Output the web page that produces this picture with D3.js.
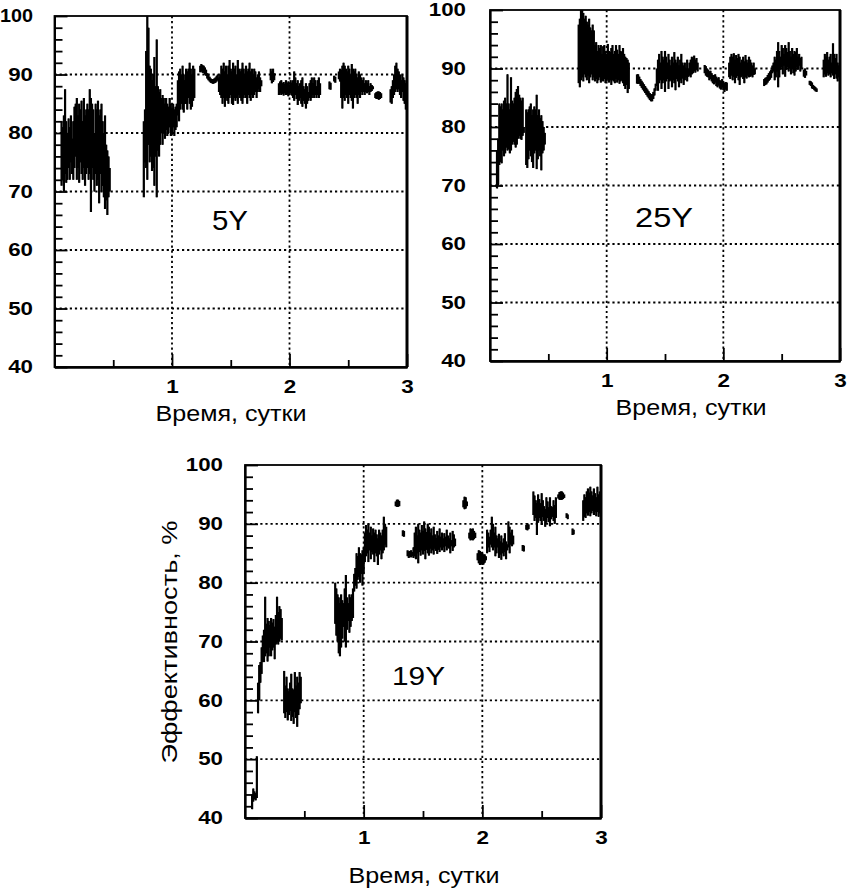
<!DOCTYPE html>
<html>
<head>
<meta charset="utf-8">
<script src="https://cdn.jsdelivr.net/npm/d3@7"></script>
<style>
  body { margin: 0; background: #fff; }
  svg { display: block; }
</style>
</head>
<body>
<svg id="chart" width="849" height="890"></svg>
<script>
// Sampling interval of the efficiency records, days
const STEP = 0.01;

const yTicks = [40, 50, 60, 70, 80, 90, 100];
const xTicks = [1, 2, 3];
const panelNames = ["5Y", "25Y", "19Y"];
const xTitle = "Время, сутки";
const yTitle = "Эффективность, %";

// Each run: [start time (days), upper envelope %, lower envelope %], one value per STEP
const runs5Y = [
  [0.06,
   [82, 81, 83, 87.5, 82, 80, 82.5, 81, 83, 79, 82, 84.5, 85, 86, 83, 85, 84, 85.5, 82, 86, 83, 84, 85, 84, 87.5, 86, 85, 84, 80, 85, 84, 85.5, 83, 84, 85, 82, 80, 83, 78, 77, 76, 74],
   [71, 72, 70, 73, 71.5, 72, 74, 72, 75, 73, 72, 74, 76, 72, 74, 71.5, 75, 73, 72, 74, 71, 73, 74, 72, 73, 66.5, 74, 72, 70, 73, 71, 72, 68, 73, 70, 71, 69, 67, 68.5, 66, 69, 70]],
  [0.76,
   [82, 84, 94, 100, 98, 91.5, 91, 89, 90, 93, 88, 96, 88, 87, 87.5, 86, 86.5, 86, 85, 86, 85, 84.5, 86, 85, 84, 85, 84, 84.5, 85],
   [69, 75, 74, 72, 78, 75, 76, 73.5, 74, 71, 76, 69, 77, 76, 78, 80, 78, 80, 79, 80.5, 79.5, 80, 81, 79.5, 80, 81, 79.5, 80.5, 81]],
  [1.05,
   [89, 90.5, 91, 90, 91.5, 90, 89, 91, 90.5, 91, 92, 91, 90, 91.5, 91],
   [83, 82, 84, 85, 84, 83.5, 85, 85, 84, 86, 85, 84, 84.5, 85.5, 86]],
  [1.24,
   [91.5, 91.8, 91.6, 91.5, 91.2, 90.8, 90.2, 90, 89.6, 89.3, 89.2, 89.2, 89.3, 89.5, 89.8, 90],
   [90.4, 90.5, 90.3, 90.3, 90.0, 89.8, 89.3, 89.0, 88.8, 88.6, 88.5, 88.4, 88.5, 88.6, 88.8, 89]],
  [1.40,
   [89.5, 90, 91.5, 91, 92, 90.5, 91.5, 90, 91.5, 92.5, 91, 90.5, 92, 91, 91.5, 90, 92.5, 91, 90.5, 91, 92, 91, 90, 91.5, 90.5, 91, 92, 90.5, 91, 90, 91, 90.5, 89.5, 90, 90.5, 89.5, 89],
   [87, 86.5, 86, 85, 86, 84.5, 86, 85.5, 85, 86, 86.5, 85, 84.8, 86, 85.5, 86, 85, 86.5, 86, 85.5, 85, 86, 86.5, 86, 85, 86.5, 86, 85.5, 86.5, 86, 86.5, 87, 86, 87, 87.5, 87, 88]],
  [1.84, [91, 90.5, 91, 90.2], [89, 88.5, 88.7, 89]],
  [1.91,
   [88.5, 88.8, 89, 88.5, 88.7, 88.4, 89, 88.5, 88.8, 88.3, 89, 88.6, 89, 90.5, 89.5, 88.5, 89, 88, 88.5, 89, 89.5, 88, 87.5, 88.5, 88, 87, 88.5, 89, 89.5, 88.5, 89.5, 89, 88, 89, 89.5, 88.5],
   [86.5, 86.8, 86.5, 86.7, 86.4, 86.8, 86.5, 86.6, 86.3, 86.5, 86.8, 86.4, 86, 85.5, 86.5, 85.8, 84.8, 85.5, 86, 85, 84.5, 85.5, 85, 84.2, 85, 85.5, 86, 85.5, 86, 86.5, 86, 86.5, 86, 86.5, 86, 86.5]],
  [2.34, [88.8, 88.6], [87.5, 87.4]],
  [2.38, [89.8, 89.6], [88.8, 88.6]],
  [2.42,
   [90.5, 91, 90.8, 91.5, 92, 91.5, 91, 90.5, 91.5, 91, 90, 91.8, 91, 90.5, 91, 90, 89.5, 90.5, 90, 89.5, 89, 89.5, 88.5, 89, 88.5, 89, 88, 88.5, 88.2, 88],
   [89.2, 88.8, 86, 84.2, 86, 85.5, 86.5, 86, 85, 86.5, 86, 85.5, 84.2, 86, 86.5, 86, 85, 86.5, 86, 87, 86.5, 87, 86.5, 87, 86.8, 87, 86.5, 87, 87.2, 87.5]],
  [2.73, [86.8, 87, 87.1, 87.1, 87, 86.8], [86, 85.8, 85.8, 85.7, 85.8, 86]],
  [2.86,
   [87.5, 88, 89, 90, 91.5, 92, 91, 90.5, 90, 89, 90, 89.5, 89, 88.5],
   [85.2, 85, 86, 86.5, 87, 87.5, 87, 87.5, 86.5, 86, 87, 85.5, 85, 84]]
];

const runs25Y = [
  [0.06,
   [76, 78, 84, 83.5, 84, 83, 84.5, 85, 84, 89, 84, 83, 88.5, 84.5, 84, 85, 86, 86.5, 87, 85.5, 85, 84.5, 85, 80],
   [69.5, 70, 73.5, 74, 73.8, 76, 75, 75.5, 76.5, 76, 76.2, 75.5, 76, 77, 77.5, 77, 76.5, 77, 78, 78.5, 78, 77.8, 78.5, 79]],
  [0.31,
   [83, 82.5, 83, 83.5, 84, 82, 83, 83.5, 83, 85.5, 82, 83, 81.5, 82, 81, 80, 79],
   [73.5, 73, 74.5, 76, 75, 74, 73, 75.5, 76, 72.8, 74.5, 76, 75, 72.6, 75.5, 76, 77]],
  [0.76,
   [97.5, 98.5, 100, 100, 99.5, 98.5, 99, 98, 97.5, 98.5, 97, 96.5, 97.5, 96.5, 94, 94.5, 93, 94, 93.5, 94, 92.5, 93.8, 94, 93, 92.5, 94.2, 93, 92.8, 93.5, 94, 92.5, 93, 94, 93.2, 92.5, 94, 93, 92.8, 93.5, 92.5, 92, 91.8, 91.5, 91],
   [87.5, 86.8, 88, 88.5, 87.8, 89, 88.5, 88, 88.8, 87.5, 88.5, 89, 88, 88.5, 87.8, 88.2, 87.5, 88, 88.5, 87.6, 88, 87.8, 88.2, 87.5, 87.8, 88.1, 87.6, 88, 87.2, 88, 87.8, 87.5, 88.2, 87.6, 88, 87.4, 87.8, 88, 87.5, 87, 86.5, 87.2, 85.8, 86.5]],
  [1.26,
   [89.0, 89.0, 88.6, 88.2, 87.9, 87.6, 87.3, 87.0, 86.7, 86.4, 86.1, 85.8, 85.6, 85.6, 86.0, 86.6, 87.4],
   [87.4, 87.4, 87.4, 87.0, 86.7, 86.4, 86.1, 85.8, 85.5, 85.2, 84.9, 84.6, 84.4, 84.4, 84.8, 85.4, 86.2]],
  [1.43,
   [90, 91.5, 92.5, 91, 93, 92, 91.5, 93, 92, 91, 92.5, 91.5, 90.5, 92, 91, 92.8, 91.5, 91, 92, 90.5, 91.5, 92.5, 91, 90.5, 91, 90, 91.5, 90, 91, 91.5, 92, 91.8, 92.2, 91.5, 91.8, 91],
   [87, 86.2, 87.5, 88, 86.5, 87.5, 88, 86, 87.8, 88.2, 86.5, 87.8, 88, 86.8, 88, 87.5, 86.3, 88.2, 87.8, 86.8, 88, 87.5, 88.3, 87.2, 88, 88.5, 87.8, 88.6, 88.8, 88.5, 89, 89.2, 89.6, 89.3, 89.8, 89.5]],
  [1.84,
   [90.6, 90.4, 90.0, 89.8, 89.5, 89.6, 89.2, 88.9, 88.8, 89.0, 88.6, 88.3, 88.5, 88.0, 87.8, 88.2, 87.8, 87.5, 87.7, 87.6],
   [89.2, 88.8, 88.6, 88.5, 88.0, 88.2, 87.8, 87.5, 87.3, 87.6, 87.0, 86.8, 87.1, 86.6, 86.4, 86.8, 86.3, 86.0, 86.4, 86.2]],
  [2.05,
   [91, 92, 92.5, 92, 92.6, 91.5, 92.3, 91.8, 92.5, 92, 91, 91.5, 92, 91.2, 92.3, 91.5, 91, 92, 91.5, 91, 90.5, 91, 90],
   [88.5, 88.2, 88.8, 88, 88.6, 87.5, 88.4, 88.7, 88, 87.2, 88.5, 88.8, 88.2, 87.5, 88.5, 88.3, 88.8, 88.5, 88.6, 88.8, 88.5, 88.9, 89]],
  [2.35,
   [88.2, 88.4, 88.5, 88.9, 89.2, 89.5, 89.8],
   [87.0, 87.2, 87.3, 87.6, 87.9, 88.1, 88.4]],
  [2.42,
   [90.5, 91, 92, 91.5, 93, 94.5, 93, 92, 94, 93.5, 92.5, 94, 93.5, 92.8, 94.5, 93, 92, 93.5, 92.5, 93, 92.8, 93.5, 92, 92.5, 91.8, 92],
   [89.2, 89.5, 88, 88.5, 89.5, 86.8, 88.5, 89.8, 90.2, 89, 90.5, 88.6, 89.8, 90.2, 89.5, 90, 89, 90, 89.2, 88.8, 89.5, 90.2, 89.8, 90.5, 89.5, 90]],
  [2.69, [89.8, 90, 89.6], [88.6, 88.4, 88.8]],
  [2.74,
   [87.9, 87.8, 87.6, 87.2, 87.0, 86.8, 86.6],
   [87.2, 87.0, 86.6, 86.5, 86.3, 86.1, 86.0]],
  [2.86,
   [91.5, 92.5, 92, 92.8, 91.5, 92, 92.5, 91, 94.3, 92.5, 91.8, 92.5, 91, 90.5],
   [88.5, 89, 88.6, 89.2, 88.8, 89, 88.5, 89.2, 88.8, 88.2, 89, 88.3, 87.8, 88.5]]
];

const runs19Y = [
  [0.06, [44, 45, 44.5, 44.2, 50.5], [41.5, 42.8, 43.2, 43, 43.4]],
  [0.11, [63, 66, 66.5, 69, 71], [57.8, 60, 63, 64.5, 66.5]],
  [0.16,
   [72, 77.6, 73, 74, 73.5, 72.8, 74, 73.2, 73.8, 72.5, 74.5, 77.6, 75, 76, 75.5, 74],
   [66.5, 67.5, 68, 66.6, 67.5, 69, 67.5, 68.5, 69, 67, 69.5, 70, 69.5, 70, 70.5, 70.2]],
  [0.33,
   [65, 62.5, 64, 62, 61.5, 63, 64.5, 62, 61.8, 64.8, 62.5, 64, 63, 64.8, 64],
   [57.8, 57, 58, 56.6, 57.5, 58.2, 56.5, 57.2, 56, 58, 57, 55.5, 57.5, 58.5, 59.5]],
  [0.76,
   [80, 79, 78, 77.5, 76.5, 78, 77, 76.5, 79, 81.3, 77.5, 76.5, 78, 77.5, 78, 79],
   [73, 71, 70, 68, 67.5, 69, 70.5, 72.5, 70, 69, 72, 73.5, 71.5, 72.5, 73.5, 74]],
  [0.92,
   [81.5, 82.5, 85, 84.5, 86, 85, 84.8, 85.5],
   [78.5, 79.5, 79, 80.5, 81, 80, 81.5, 79.5]],
  [1.00,
   [86, 88.5, 89.8, 89, 90, 88.5, 89.5, 88, 89.2, 88.5, 89, 88.2, 87.5, 89, 88.5, 88, 89, 91.2, 90, 89.5],
   [81.5, 83.5, 84.5, 85, 83.5, 85.5, 84, 85.2, 84.8, 83.5, 85, 84.5, 83, 84.8, 85.5, 84, 85, 85.5, 86.5, 86]],
  [1.27, [93.8, 94.1, 94.1, 93.9], [93.0, 92.9, 92.9, 93.0]],
  [1.33, [88.9, 88.8], [87.9, 87.8]],
  [1.37,
   [85.5, 85.3, 85.4, 85.5, 85.2, 86, 88.5, 89.5, 88, 90, 89, 88.5, 89.8, 88.8, 90.4, 89.2, 88.6, 90, 89.5, 88.5, 89.2, 88, 89.5, 88.2, 87.6, 88.8, 88, 89.2, 87.8, 88.5, 87.5, 88.4, 87.8, 89, 88, 87.5, 88.5, 87.2, 88.8, 88.2, 87.5],
   [84.5, 84.2, 84.4, 84.3, 84.5, 84.2, 84.5, 84, 85, 83.3, 85.2, 84.6, 85.5, 84.8, 85.4, 84, 85.6, 85, 84.6, 85.8, 85, 85.5, 84.8, 85.8, 85.4, 84.9, 85.6, 85.2, 86, 85.5, 86, 85.2, 86.2, 85.5, 86, 85.8, 85, 86.2, 85.4, 86, 86.2]],
  [1.84, [94, 94.6, 94.5, 93.8], [92.8, 92.5, 92.6, 93]],
  [1.89, [88.5, 89.2, 89.1, 89.2, 88.8, 88.5], [87.5, 87.2, 87.3, 87.2, 87.4, 87.6]],
  [1.96, [85, 85.5, 85.4, 85.2, 85, 84.8, 84.8, 84.5], [83.8, 83.3, 83, 83.2, 83, 83.1, 83.4, 83.8]],
  [2.04,
   [89, 88.5, 87.8, 89, 91.2, 90, 88.5, 89.5, 88, 87.5, 88.3, 87, 88, 86.8, 87.5, 88.4, 87, 86.5, 90.4, 89.5, 88.5, 89, 88],
   [85, 86, 85.2, 86.5, 86, 85.5, 86, 84.5, 85, 86, 84.2, 84.8, 83.9, 85, 84.5, 85.2, 84, 85.5, 86, 85, 86.5, 86.2, 86.5]],
  [2.34, [86.4, 86.3], [85.4, 85.3]],
  [2.37, [89.8, 90.1, 89.9], [89, 88.9, 89.1]],
  [2.43,
   [95.5, 94.8, 94, 93.5, 95, 94.2, 93.5, 95.2, 94, 93, 92.5, 94.5, 93.8, 92.8, 94.5, 93, 92.8, 94, 93.2, 94.5],
   [91.5, 90.5, 91, 88.1, 90.2, 91, 90.5, 89.8, 91.2, 90.5, 89.5, 90.2, 91, 90.3, 89.6, 90.8, 91.2, 90.5, 90, 91]],
  [2.64, [95, 95.4, 95.5, 95.5, 95.3, 95], [94.3, 94.1, 94.1, 94.1, 94.2, 94.4]],
  [2.71, [91.8, 91.6], [91, 90.8]],
  [2.76, [89.2, 89], [88.1, 88.2]],
  [2.85,
   [94, 95, 94.5, 95.5, 96, 95.3, 96.3, 95.5, 94.8, 96, 95.2, 94.5, 96.3, 95, 95.5],
   [90.5, 91.2, 91, 91.8, 91.4, 92, 91.3, 91.8, 92.2, 91.5, 92, 91.3, 92, 91.2, 91.8]]
];

// Page layout of the three panels
const panels = [
  { name: panelNames[0], runs: runs5Y,
    box: { l: 54.5, r: 407, t: 16, b: 367 }, labelPad: 21.5, topLabelLen: 33,
    title: { x: 231, y: 421 }, tag: { x: 230, y: 230, size: 27, len: 36 } },
  { name: panelNames[1], runs: runs25Y,
    box: { l: 490, r: 840, t: 10, b: 361 }, labelPad: 24,
    title: { x: 691, y: 415 }, tag: { x: 664, y: 227, size: 27, len: 58 } },
  { name: panelNames[2], runs: runs19Y,
    box: { l: 245, r: 601, t: 465, b: 818 }, labelPad: 22,
    title: { x: 424, y: 883 }, tag: { x: 418.5, y: 685, size: 26, len: 53 },
    yTitle: { x: 177, y: 642 } }
];

const FONT = "'Liberation Sans', Arial, Helvetica, sans-serif";
const svg = d3.select("#chart");

function styleLabels(sel, charWidth, maxLen) {
  sel.attr("font-family", null).attr("font-size", null);
  sel.selectAll("text")
    .attr("font-family", FONT)
    .attr("font-weight", "bold")
    .attr("font-size", 18)
    .attr("fill", "#000")
    .attr("lengthAdjust", "spacingAndGlyphs")
    .attr("textLength", function () {
      const len = this.textContent.length * charWidth;
      return maxLen ? Math.min(len, maxLen) : len;
    });
}

panels.forEach((p, pi) => {
  const { l, r, t, b } = p.box;
  const x = d3.scaleLinear().domain([0, 3]).range([l, r]);
  const y = d3.scaleLinear().domain([40, 100]).range([b, t]);
  const g = svg.append("g");

  const clipId = "plot-clip-" + pi;
  svg.append("defs").append("clipPath").attr("id", clipId)
    .append("rect").attr("x", l).attr("y", t).attr("width", r - l).attr("height", b - t);

  // dotted grid
  g.append("g").selectAll("line")
    .data(yTicks.filter(v => v > 40 && v < 100))
    .join("line")
    .attr("x1", l).attr("x2", r)
    .attr("y1", d => y(d)).attr("y2", d => y(d))
    .attr("stroke", "#000").attr("stroke-width", 1.8)
    .attr("stroke-dasharray", "2.2,2.9");
  g.append("g").selectAll("line")
    .data(xTicks.filter(v => v < 3))
    .join("line")
    .attr("x1", d => x(d)).attr("x2", d => x(d))
    .attr("y1", t).attr("y2", b)
    .attr("stroke", "#000").attr("stroke-width", 1.8)
    .attr("stroke-dasharray", "2.2,2.9");

  // efficiency records: filled spread band per run plus one vertical stroke per sample
  const runData = p.runs.map(([t0, hi, lo]) =>
    hi.map((h, i) => ({ time: t0 + i * STEP, hi: h, lo: lo[i] })));
  const band = d3.area()
    .x(d => x(d.time)).y0(d => y(d.lo)).y1(d => y(d.hi))
    .curve(d3.curveStep);
  const marks = g.append("g").attr("clip-path", `url(#${clipId})`);
  marks.selectAll("path").data(runData).join("path")
    .attr("d", band).attr("fill", "#000").attr("stroke", "none");
  marks.append("g").selectAll("line").data(runData.flat()).join("line")
    .attr("x1", d => x(d.time)).attr("x2", d => x(d.time))
    .attr("y1", d => y(d.lo)).attr("y2", d => y(d.hi))
    .attr("stroke", "#000").attr("stroke-width", 2.2);

  // y axis: minor ticks every 2 %, major every 10 % with labels
  const yMinor = g.append("g").attr("transform", `translate(${l},0)`)
    .call(d3.axisLeft(y).tickValues(d3.range(42, 100, 2).filter(v => v % 10 !== 0))
      .tickSizeInner(-8).tickSizeOuter(0).tickFormat(""));
  const yMajor = g.append("g").attr("transform", `translate(${l},0)`)
    .call(d3.axisLeft(y).tickValues(yTicks).tickSizeInner(-13).tickSizeOuter(0)
      .tickPadding(p.labelPad).tickFormat(d3.format("d")));
  styleLabels(yMajor, 12.4, p.topLabelLen);

  // x axis: half-day ticks, labelled days
  const xMinor = g.append("g").attr("transform", `translate(0,${b})`)
    .call(d3.axisBottom(x).tickValues([0.5, 1.5, 2.5])
      .tickSizeInner(-7).tickSizeOuter(0).tickFormat(""));
  const xMajor = g.append("g").attr("transform", `translate(0,${b})`)
    .call(d3.axisBottom(x).tickValues(xTicks).tickSizeInner(-13).tickSizeOuter(0)
      .tickPadding(13).tickFormat(d3.format("d")));
  styleLabels(xMajor, 12.5);

  [yMinor, yMajor, xMinor, xMajor].forEach(a => {
    a.selectAll("line").attr("stroke", "#000").attr("stroke-width", 1.8);
    a.select(".domain").attr("stroke", "#000").attr("stroke-width", 1.8);
  });

  // frame
  g.append("rect").attr("x", l).attr("y", t).attr("width", r - l).attr("height", b - t)
    .attr("fill", "none").attr("stroke", "#000").attr("stroke-width", 1.8);
  g.append("line").attr("x1", r).attr("x2", r).attr("y1", t).attr("y2", b)
    .attr("stroke", "#000").attr("stroke-width", 3);

  // panel tag
  g.append("text")
    .attr("x", p.tag.x).attr("y", p.tag.y)
    .attr("text-anchor", "middle")
    .attr("font-family", FONT).attr("font-size", p.tag.size)
    .attr("lengthAdjust", "spacingAndGlyphs").attr("textLength", p.tag.len)
    .text(p.name);

  // axis titles
  g.append("text")
    .attr("x", p.title.x).attr("y", p.title.y)
    .attr("text-anchor", "middle")
    .attr("font-family", FONT).attr("font-size", 22)
    .attr("lengthAdjust", "spacingAndGlyphs").attr("textLength", 151)
    .text(xTitle);

  if (p.yTitle) {
    g.append("text")
      .attr("transform", `translate(${p.yTitle.x},${p.yTitle.y}) rotate(-90)`)
      .attr("text-anchor", "middle")
      .attr("font-family", FONT).attr("font-size", 22)
      .attr("lengthAdjust", "spacingAndGlyphs").attr("textLength", 243)
      .text(yTitle);
  }
});
</script>
</body>
</html>
